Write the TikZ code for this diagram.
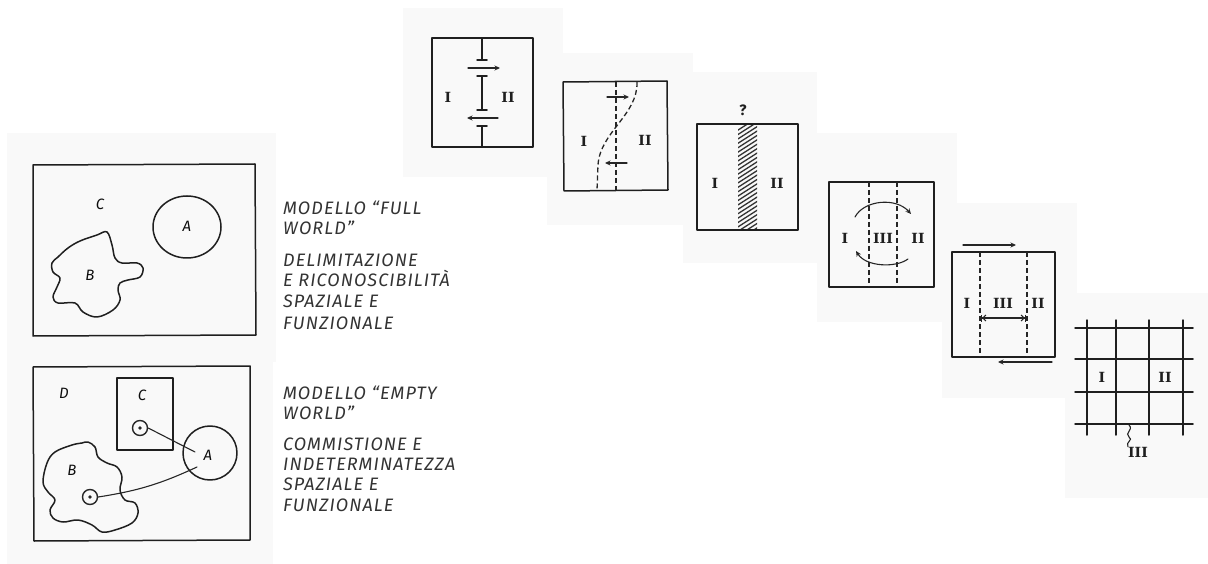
\documentclass[tikz,border=0pt]{standalone}
\usepackage{fontspec}
\newfontfamily\hand[LetterSpace=6]{Fira Sans}
\newfontfamily\romf{DejaVu Serif}
\usetikzlibrary{arrows.meta}
\tikzset{
  ink/.style={draw=black!88, line width=1.5pt, line join=round, line cap=round},
  fine/.style={draw=black!85, line width=1.1pt, line cap=round},
  dashink/.style={draw=black!85, line width=1.3pt, dash pattern=on 5pt off 3pt},
  arr/.style={fine, -{Stealth[length=5.5pt,width=5pt]}},
  bgpanel/.style={fill=black!2.5, draw=none},
  roman/.style={font=\romf\bfseries\fontsize{14}{14}\selectfont, text=black!88, inner sep=0pt},
  letter/.style={font=\hand\itshape\fontsize{15}{15}\selectfont, text=black!95, inner sep=0pt},
  caption/.style={font=\hand\itshape\fontsize{18}{18}\selectfont, text=black!80, anchor=base west, inner sep=0pt},
  smallc/.style={circle, draw=black!85, line width=1.4pt, minimum size=15pt, inner sep=0pt}
}
\begin{document}
\begin{tikzpicture}[x=1pt,y=-1pt]
\useasboundingbox (0,0) rectangle (1208,564);
\fill[white] (0,0) rectangle (1208,564);
% paper backgrounds
\fill[bgpanel] (7,133) rectangle (276,362);
\fill[bgpanel] (7,362) rectangle (273,564);
\fill[bgpanel] (403,8) rectangle (563,177);
\fill[bgpanel] (547,53) rectangle (693,225);
\fill[bgpanel] (683,72) rectangle (817,263);
\fill[bgpanel] (817,133) rectangle (957,322);
\fill[bgpanel] (942,203) rectangle (1077,398);
\fill[bgpanel] (1065,293) rectangle (1208,498);

% ---------- left top: full world ----------
\draw[ink] (33,165) -- (255,164) -- (256,335) -- (33,336) -- cycle;
\node[letter] (lC) at (100,204) {C};
\draw[ink] (187,227) ellipse [x radius=34pt, y radius=31pt];
\node[letter] (lA) at (187,226) {A};
\draw[ink] plot[smooth cycle, tension=0.6] coordinates {
 (107,232) (112,245) (115,258) (122,263) (137,263) (143,268) (140,277)
 (128,280) (120,283) (118,290) (120,300) (113,310) (97,317) (83,312)
 (75,303) (58,303) (53,297) (57,287) (60,278) (53,272) (52,263) (58,257)
 (68,248) (80,241) (97,235)};
\node[letter] (lB) at (90,275) {B};

% ---------- left bottom: empty world ----------
\draw[ink] (33,367) -- (250,366) -- (250,540) -- (34,541) -- cycle;
\node[letter] (lD) at (64,393) {D};
\draw[ink] (117,378) rectangle (173,450);
\node[letter] (lC2) at (142,395) {C};
\draw[ink] (210,453) circle [radius=27pt];
\node[letter] (lA2) at (208,455) {A};
\draw[ink] plot[smooth cycle, tension=0.6] coordinates {
 (88,442) (95,447) (98,457) (107,463) (117,467) (122,477) (120,490)
 (125,500) (135,503) (138,513) (132,523) (115,530) (102,532) (92,525)
 (78,520) (63,522) (53,518) (50,510) (55,500) (48,492) (43,482) (47,463)
 (55,452) (72,445) (82,443)};
\node[letter] (lB2) at (72,470) {B};
\node[smallc] (sc) at (140,428) {};
\fill[black!85] (sc.center) circle [radius=1.8pt];
\node[smallc] (sb) at (90,497) {};
\fill[black!85] (sb.center) circle [radius=1.8pt];
\coordinate (aIn1) at (195,452);
\coordinate (aIn2) at (197,467);
\draw[fine] (sc.east) -- (aIn1);
\draw[fine] (aIn2) to[bend left=8] (sb.east);

% ---------- captions ----------
\node[caption] (t1) at (283,215) {MODELLO “FULL};
\node[caption] (t2) at (283,235) {WORLD”};
\node[caption] (t3) at (283,267) {DELIMITAZIONE};
\node[caption] (t4) at (283,287) {E RICONOSCIBILITÀ};
\node[caption] (t5) at (283,308) {SPAZIALE E};
\node[caption] (t6) at (283,329) {FUNZIONALE};
\node[caption] (u1) at (283,399) {MODELLO “EMPTY};
\node[caption] (u2) at (283,419) {WORLD”};
\node[caption] (u3) at (283,450) {COMMISTIONE E};
\node[caption] (u4) at (283,470) {INDETERMINATEZZA};
\node[caption] (u5) at (283,490) {SPAZIALE E};
\node[caption] (u6) at (283,511) {FUNZIONALE};

% ---------- panel 1 ----------
\draw[ink] (432,38) rectangle (533,147);
\draw[ink] (482,38) -- (482,60) (477,60) -- (487,60);
\draw[ink] (477,76) -- (487,76) (482,76) -- (482,110) (477,110) -- (487,110);
\draw[ink] (477,126) -- (487,126) (482,126) -- (482,147);
\coordinate (p1a) at (468,68); \coordinate (p1b) at (500,68);
\coordinate (p1c) at (498,118); \coordinate (p1d) at (467,118);
\draw[arr] (p1a) -- (p1b);
\draw[arr] (p1c) -- (p1d);
\node[roman] (p1I) at (448,97) {I};
\node[roman] (p1II) at (508,97) {II};

% ---------- panel 2 ----------
\draw[ink] (563,82) -- (667,81) -- (668,190) -- (564,191) -- cycle;
\draw[dashink] (616,82) -- (616,190);
\draw[dashink] (637,82) .. controls (638,115) and (600,132) .. (598,165) -- (597,190);
\draw[arr] (607,97) -- (629,97);
\draw[arr] (627,163) -- (605,163);
\node[roman] (p2I) at (584,141) {I};
\node[roman] (p2II) at (645,140) {II};

% ---------- panel 3 ----------
\begin{scope}
\clip (738,124) rectangle (757,230);
\foreach \k in {0,...,28}
  \draw[draw=black!80, line width=1.3pt] (735,{122+\k*4.4+10}) -- (760,{122+\k*4.4-6});
\end{scope}
\draw[ink] (697,124) rectangle (798,230);
\node[font=\hand\bfseries\fontsize{15}{15}\selectfont, text=black!88, inner sep=0pt] (p3q) at (743,110) {?};
\node[roman] (p3I) at (715,183) {I};
\node[roman] (p3II) at (777,183) {II};

% ---------- panel 4 ----------
\draw[ink] (829,182) rectangle (934,287);
\draw[dashink] (869,182) -- (869,287);
\draw[dashink] (897,182) -- (897,287);
\node[roman] (p4I) at (845,238) {I};
\node[roman] (p4III) at (883,238) {III};
\node[roman] (p4II) at (918,238) {II};
\draw[arr] (855,217) .. controls (864,200) and (896,197) .. (911,214);
\draw[arr] (908,259) .. controls (896,268) and (866,267) .. (856,251);

% ---------- panel 5 ----------
\draw[ink] (952,252) rectangle (1055,357);
\draw[dashink] (980,252) -- (980,357);
\draw[dashink] (1027,252) -- (1027,357);
\node[roman] (p5I) at (967,303) {I};
\node[roman] (p5III) at (1003,303) {III};
\node[roman] (p5II) at (1038,303) {II};
\coordinate (p5l) at (981,318); \coordinate (p5r) at (1026,318);
\draw[fine, {Bar[width=7pt]Straight Barb[length=3pt]}-{Straight Barb[length=3pt]Bar[width=7pt]}] (p5l) -- (p5r);
\coordinate (p5ta) at (963,245); \coordinate (p5tb) at (1016,245);
\coordinate (p5ba) at (1052,362); \coordinate (p5bb) at (998,362);
\draw[arr] (p5ta) -- (p5tb);
\draw[arr] (p5ba) -- (p5bb);

% ---------- panel 6 ----------
\foreach \x in {1087,1116,1149,1183}
  \draw[ink] (\x,320) -- (\x,435);
\foreach \y in {328,359,392,424}
  \draw[ink] (1075,\y) -- (1193,\y);
\node[roman] (p6I) at (1102,377) {I};
\node[roman] (p6II) at (1165,377) {II};
\node[roman] (p6III) at (1138,452) {III};
\coordinate (sq) at (1129,425);
\draw[fine] (sq) .. controls (1134,430) and (1124,433) .. (1129,437) .. controls (1134,440) and (1125,442) .. (p6III.north west);
\end{tikzpicture}
\end{document}
